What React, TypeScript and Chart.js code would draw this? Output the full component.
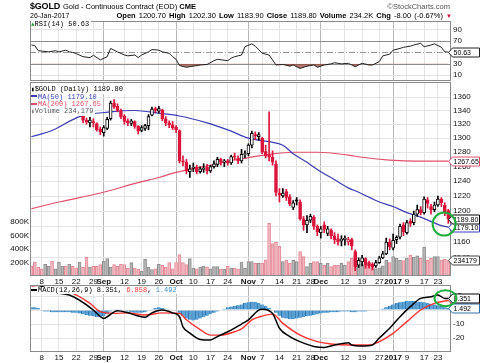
import { useEffect, useRef } from 'react';
import { Chart, registerables } from 'chart.js';

Chart.register(...registerables);

const FONT = '"Liberation Sans", Arial, Helvetica, sans-serif';
const MONO = '"Liberation Mono", "DejaVu Sans Mono", monospace';

// ---------------- DATA ----------------
const dates = [
  '08-03','08-04','08-05','08-08','08-09','08-10','08-11','08-12','08-15','08-16','08-17','08-18','08-19','08-22','08-23','08-24','08-25','08-26','08-29','08-30','08-31',
  '09-01','09-02','09-06','09-07','09-08','09-09','09-12','09-13','09-14','09-15','09-16','09-19','09-20','09-21','09-22','09-23','09-26','09-27','09-28','09-29','09-30',
  '10-03','10-04','10-05','10-06','10-07','10-10','10-11','10-12','10-13','10-14','10-17','10-18','10-19','10-20','10-21','10-24','10-25','10-26','10-27','10-28','10-31',
  '11-01','11-02','11-03','11-04','11-07','11-08','11-09','11-10','11-11','11-14','11-15','11-16','11-17','11-18','11-21','11-22','11-23','11-25','11-28','11-29','11-30',
  '12-01','12-02','12-05','12-06','12-07','12-08','12-09','12-12','12-13','12-14','12-15','12-16','12-19','12-20','12-21','12-22','12-23','12-27','12-28','12-29','12-30',
  '01-03','01-04','01-05','01-06','01-09','01-10','01-11','01-12','01-13','01-17','01-18','01-19','01-20','01-23','01-24','01-25','01-26',
];

const opens = [
  1370,1366,1364,1344,1340,1346,1350,1343,1344,1348,1356,1350,1357,1345,1340,1340,1326,1322,1324,1321,1313,
  1308,1314,1328,1351,1346,1340,1332,1325,1321,1324,1317,1311,1314,1318,1333,1343,1339,1341,1328,1322,1319,
  1316,1311,1268,1266,1253,1258,1259,1253,1256,1259,1254,1260,1263,1270,1266,1268,1265,1275,1272,1268,1277,
  1278,1290,1305,1302,1300,1281,1276,1273,1263,1224,1220,1226,1219,1205,1215,1212,1190,1182,1188,1192,1180,
  1172,1182,1171,1175,1168,1164,1161,1163,1160,1163,1148,1131,1135,1139,1134,1132,1130,1134,1140,1145,1160,
  1152,1163,1166,1182,1172,1187,1185,1196,1202,1198,1215,1206,1202,1208,1216,1208,1200.7,
];
const highs = [
  1372,1368,1367,1345,1350,1353,1352,1347,1352,1360,1358,1360,1358,1347,1348,1342,1329,1330,1328,1322,1316,
  1318,1330,1354,1356,1350,1342,1334,1328,1327,1325,1318,1318,1320,1334,1345,1345,1346,1342,1331,1325,1324,
  1318,1312,1275,1270,1262,1265,1262,1260,1264,1263,1262,1268,1273,1272,1270,1270,1276,1279,1275,1284,1282,
  1292,1310,1309,1308,1301,1290,1338,1282,1268,1230,1230,1229,1222,1214,1218,1215,1193,1194,1196,1194,1182,
  1180,1186,1180,1177,1172,1170,1168,1168,1166,1165,1150,1140,1143,1140,1136,1134,1137,1142,1148,1165,1164,
  1170,1168,1183,1185,1188,1190,1200,1208,1206,1219,1218,1209,1212,1220,1218,1211,1202.3,
];
const lows = [
  1360,1358,1335,1333,1338,1342,1338,1335,1340,1346,1344,1348,1340,1335,1337,1322,1320,1316,1316,1310,1305,
  1303,1312,1326,1343,1338,1328,1320,1318,1318,1314,1306,1309,1311,1312,1332,1337,1336,1325,1318,1315,1312,
  1308,1265,1261,1250,1245,1253,1250,1251,1252,1250,1252,1258,1260,1262,1260,1262,1263,1270,1264,1265,1272,
  1275,1286,1298,1297,1278,1272,1268,1262,1220,1212,1218,1214,1207,1202,1208,1188,1175,1172,1185,1176,1168,
  1165,1172,1168,1164,1158,1156,1155,1156,1156,1150,1124,1128,1130,1127,1127,1125,1128,1133,1139,1144,1150,
  1150,1158,1164,1168,1170,1180,1182,1193,1195,1196,1204,1196,1199,1206,1206,1194,1183.9,
];
const closes = [
  1366,1363,1344,1340,1346,1350,1343,1344,1348,1356,1350,1357,1345,1340,1341,1326,1323,1326,1322,1312,1309,
  1315,1327,1351,1345,1340,1331,1324,1322,1325,1317,1310,1315,1318,1331,1342,1340,1343,1328,1322,1319,1315,
  1312,1268,1266,1254,1257,1259,1253,1257,1258,1254,1260,1264,1270,1266,1268,1265,1274,1273,1268,1277,1278,
  1290,1307,1303,1305,1280,1275,1273,1266,1225,1221,1224,1218,1209,1211,1213,1190,1182,1188,1193,1180,1173,
  1177,1176,1177,1168,1163,1160,1164,1165,1163,1155,1129,1137,1140,1131,1130,1129,1134,1140,1145,1160,1154,
  1162,1166,1180,1173,1185,1184,1196,1202,1198,1216,1210,1202,1208,1216,1211,1197.8,1189.8,
];
// volume in thousands
const volumes = [
  148,207,133,108,173,143,222,107,207,148,148,173,143,118,207,
  133,281,133,143,148,168,217,257,133,168,148,173,168,118,197,
  118,99,74,247,133,94,108,173,158,133,197,108,197,316,197,
  168,257,118,108,133,148,133,108,140,140,104,100,143,118,118,104,207,118,
  212,212,188,188,188,240,780,480,500,440,212,237,188,237,212,360,286,140,188,212,212,188,163,188,140,163,163,188,163,212,
  260,300,200,170,160,150,130,110,120,150,237,200,286,260,237,230,260,311,280,300,260,430,237,260,286,286,237,250,234.179,
];

const ma50Idx = [0, 6, 14, 23, 30, 37, 43, 51, 58, 63, 69, 73, 76, 80, 83, 88, 92, 95, 101, 105, 109, 113, 119, 121];
const ma50Val = [1302, 1311, 1331, 1338, 1340, 1336, 1332, 1322, 1310, 1300, 1295, 1290, 1278, 1266, 1256, 1242, 1231, 1225, 1212, 1206, 1198, 1192, 1181, 1179.1];

const ma200Idx = [0, 8, 20, 31, 37, 42, 50, 60, 69, 76, 83, 92, 96, 104, 112, 121];
const ma200Val = [1203, 1212, 1224, 1238, 1245, 1252, 1260, 1270, 1277, 1280, 1280, 1276, 1273, 1269, 1267.5, 1267.65];

const rsiIdx = [0,1,2,5,7,8,10,11,12,13,15,17,18,20,22,23,25,27,28,30,31,32,34,35,37,38,40,41,42,43,45,47,49,51,53,54,57,58,59,61,62,64,65,67,69,70,71,73,75,76,78,80,82,83,85,87,88,90,92,93,94,96,98,99,101,102,104,105,107,108,110,111,113,114,116,117,119,120,121];
const rsiVal = [63,62,53,51,53,51,54,51,50,48,42.5,41,45,37,42.5,57,51,45.5,44,45.5,41,45.5,51,55,54,51,48.5,42.5,38,27,24,26,28,29,35.5,38,35.5,40,42.5,45.5,60,65,61,48.5,45.5,37,28,29,26,28,22,26,28,24,28,30,32,30,31,28,25,31,28,28,34,44,47,54,57,59,61,63,66,60,63,65,59,51,50.63];

const macdIdx = [0,3,6,11,14,18,21,22,25,28,31,33,35,38,41,43,44,46,49,52,54,57,61,63,66,67,70,72,75,78,82,85,88,92,93,96,99,101,104,107,110,113,116,118,120,121];
const macdVal = [18.5,17,13,10.7,7,0,-6,-4.8,-0.5,-2,-4.3,-5.2,-2,0,-2,-4.8,-12,-16.5,-21,-21.4,-19,-15.5,-10,-7,0,0.5,-2.4,-13,-19,-22.6,-26,-26.7,-25,-23.3,-25,-25.7,-25,-20,-13,-4.8,2.4,8.3,9.5,10.7,8.3,8.351];

const signalIdx = [0,11,17,20,24,28,33,38,43,45,49,52,55,59,61,64,67,70,73,78,83,87,93,98,101,105,109,113,117,121];
const signalVal = [16.5,13,4.8,-1.2,-2.4,-2,-3.6,-2,-2.4,-7,-14,-17.9,-17.9,-15.5,-13.5,-7,-4.3,-2.9,-9.5,-17.9,-22.6,-24.3,-25,-25,-22.6,-16.7,-8.3,0,4.8,6.858];

const histVal = [
  2,2,1.5,
  -0.5,-1,-1,-1.5,-1.5,-1.5,-1.5,-1.5,-1.5,-2,-2,-2.5,
  -3,-3.5,-4,-4.5,-5,-5,-4.5,
  -3,-1,0.5,0.5,0.5,
  -0.5,-1,-1.5,-2,-2,-2,-1.5,
  -0.5,0.5,1.5,2,1.5,1,0.5,
  0,-0.5,-2,
  -4,-6,-7,-7.5,-7,-6,-5,-4,
  -3,-2,-1,0,1,2,
  2.5,3,3.5,4,5,5.5,6,6,5,
  4,3,1.5,0,
  -2,-4,-5.5,-6,-6.5,-6.5,-6,-5.5,-5,-4.5,
  -4,-3.5,-3,-2.5,-2,-2,-1.5,-1.5,-1.5,-1,
  -1,-1,-1.5,-1.5,-1,-1,-1,-0.5,-0.5,0,
  0.5,1,2,3,4,5,5.5,6,6.5,6.5,
  6.5,6,6,5.5,5,4.5,4,3.5,3,2,1.492,
];

const tickDates = ['08-08','08-15','08-22','08-29','09-01','09-12','09-19','09-26','10-03','10-10','10-17','10-24','11-01','11-07','11-14','11-21','11-28','12-01','12-12','12-19','12-27','01-03','01-09','01-17','01-23'];
const tickLabels = ['8','15','22','29','Sep','12','19','26','Oct','10','17','24','Nov','7','14','21','28','Dec','12','19','27','2017','9','17','23'];
const monthLabels = ['Sep', 'Oct', 'Nov', 'Dec', '2017'];

const priceTicks = [1140, 1160, 1180, 1200, 1220, 1240, 1260, 1280, 1300, 1320, 1340, 1360];
const volumeTicks = [200, 400, 600, 800];
const rsiTicks = [10, 30, 50, 70, 90];
const macdTicks = [-20, -10, 0, 10];

const lastClose = 1189.8;
const lastMa50 = 1179.1;
const lastMa200 = 1267.65;
const lastVolume = 234.179;
const lastRsi = 50.63;
const lastMacd = 8.351;
const lastSignal = 6.858;
const lastHist = 1.492;

// ---------------- STYLE ----------------
const RED = '#dc143c';
const BLACK = '#000000';
const GRID = '#e4e4e4';
const GRID_MONTH = '#b8b8b8';
const FRAME = '#8a8a8a';
const X_MIN = -0.4;
const X_MAX = 121.8;

const tickIdx = tickDates.map((d) => dates.indexOf(d));
const monthIdx = tickIdx.filter((_, k) => monthLabels.includes(tickLabels[k]));

function xScale(showLabels: boolean, height: number) {
  return {
    type: 'linear',
    min: X_MIN,
    max: X_MAX,
    offset: false,
    afterBuildTicks: (s: any) => {
      s.ticks = tickIdx.map((v) => ({ value: v }));
    },
    afterFit: (s: any) => {
      s.height = height;
    },
    grid: {
      offset: false,
      drawTicks: false,
      lineWidth: 1,
      color: (c: any) => (c.tick && monthIdx.includes(c.tick.value) ? GRID_MONTH : GRID),
    },
    border: { display: false },
    ticks: {
      display: showLabels,
      autoSkip: false,
      maxRotation: 0,
      minRotation: 0,
      padding: 1,
      color: '#111',
      font: (c: any) => ({
        family: FONT,
        size: 8,
        weight: c.tick && monthIdx.includes(c.tick.value) ? 'bold' : 'normal',
      }),
      callback: (v: any) => {
        const k = tickIdx.indexOf(v);
        return k >= 0 ? tickLabels[k] : '';
      },
    },
  };
}

function yRight(min: number, max: number, ticks: number[], type = 'linear', gridColor: any = GRID) {
  return {
    type,
    position: 'right',
    min,
    max,
    afterBuildTicks: (s: any) => {
      s.ticks = ticks.map((v) => ({ value: v }));
    },
    afterFit: (s: any) => {
      s.width = 29;
    },
    grid: { drawTicks: false, color: gridColor },
    border: { display: false },
    ticks: {
      autoSkip: false,
      padding: 2,
      color: '#111',
      font: { family: FONT, size: 8 },
      callback: (v: any) => String(v),
    },
  };
}

function drawFrame(chart: any) {
  const { ctx, chartArea: a } = chart;
  ctx.save();
  ctx.strokeStyle = FRAME;
  ctx.lineWidth = 1;
  ctx.strokeRect(Math.round(a.left) + 0.5, Math.round(a.top) + 0.5, Math.round(a.right - a.left) - 1, Math.round(a.bottom - a.top) - 1);
  ctx.restore();
}

function drawTag(ctx: any, yPix: number, text: string, stroke: string) {
  const y = Math.round(yPix) + 0.5;
  const x0 = 448.5, x1 = 452.5, x2 = 479.5, h = 4.5;
  ctx.save();
  ctx.beginPath();
  ctx.moveTo(x0, y);
  ctx.lineTo(x1, y - h);
  ctx.lineTo(x2, y - h);
  ctx.lineTo(x2, y + h);
  ctx.lineTo(x1, y + h);
  ctx.closePath();
  ctx.fillStyle = '#ffffff';
  ctx.fill();
  ctx.strokeStyle = stroke;
  ctx.lineWidth = 1;
  ctx.stroke();
  ctx.fillStyle = '#000';
  ctx.font = `7px ${FONT}`;
  ctx.textBaseline = 'middle';
  ctx.textAlign = 'left';
  ctx.fillText(text, 453.5, y + 0.5);
  ctx.restore();
}

function drawRing(ctx: any, cx: number, cy: number, rx: number, ry: number) {
  ctx.save();
  ctx.strokeStyle = '#1fae3c';
  ctx.lineWidth = 2;
  ctx.beginPath();
  ctx.ellipse(cx, cy, rx, ry, 0, 0, Math.PI * 2);
  ctx.stroke();
  ctx.restore();
}

const baseOptions = {
  responsive: false,
  animation: false,
  events: [],
  plugins: { legend: { display: false }, tooltip: { enabled: false } },
};

export default function App() {
  const rsiRef = useRef<HTMLCanvasElement>(null);
  const mainRef = useRef<HTMLCanvasElement>(null);
  const macdRef = useRef<HTMLCanvasElement>(null);

  useEffect(() => {
    const xs = dates.map((_, i) => i);
    const prev = (i: number) => (i > 0 ? closes[i - 1] : opens[0]);
    const candleColor = xs.map((i) => (closes[i] < prev(i) ? RED : BLACK));
    const bodyFill = xs.map((i) => (closes[i] >= opens[i] ? '#ffffff' : candleColor[i]));
    const volFill = xs.map((i) => (closes[i] < prev(i) ? '#f3b7c0' : '#b6b6b6'));
    const volBorder = xs.map((i) => (closes[i] < prev(i) ? '#e48a99' : '#8e8e8e'));

    // RSI panel
    const rsiChart = new Chart(rsiRef.current as any, {
      type: 'line',
      data: {
        datasets: [
          {
            data: rsiIdx.map((d, k) => ({ x: d, y: rsiVal[k] })),
            borderColor: '#222',
            borderWidth: 1,
            pointRadius: 0,
            tension: 0,
            fill: { target: { value: 30 }, above: 'rgba(0,0,0,0)', below: 'rgba(150,72,62,0.75)' },
          },
        ],
      },
      options: {
        ...baseOptions,
        layout: { padding: { left: 30, right: 0, top: 21, bottom: 282 } },
        scales: {
          x: xScale(false, 0),
          y: yRight(0, 105, rsiTicks, 'linear', (c: any) =>
            c.tick && [30, 50, 70].includes(c.tick.value) ? 'rgba(0,0,0,0)' : GRID
          ),
        },
      } as any,
      plugins: [
        {
          id: 'rsiRefs',
          beforeDatasetsDraw(chart: any) {
            const { ctx, chartArea: a, scales } = chart;
            ctx.save();
            ctx.lineWidth = 1;
            [70, 30].forEach((v) => {
              const y = Math.round(scales.y.getPixelForValue(v)) + 0.5;
              ctx.strokeStyle = '#8c8c8c';
              ctx.beginPath();
              ctx.moveTo(a.left, y);
              ctx.lineTo(a.right, y);
              ctx.stroke();
            });
            const y50 = Math.round(scales.y.getPixelForValue(50)) + 0.5;
            ctx.strokeStyle = '#9a9a9a';
            ctx.setLineDash([6, 2, 1, 2]);
            ctx.beginPath();
            ctx.moveTo(a.left, y50);
            ctx.lineTo(a.right, y50);
            ctx.stroke();
            ctx.restore();
          },
          afterDraw(chart: any) {
            drawFrame(chart);
            drawTag(chart.ctx, chart.scales.y.getPixelForValue(lastRsi), lastRsi.toFixed(2), '#222');
          },
        },
      ],
    } as any);

    // Price panel
    const mainChart = new Chart(mainRef.current as any, {
      type: 'bar',
      data: {
        datasets: [
          {
            type: 'bar',
            data: xs.map((i) => ({ x: i, y: [opens[i], closes[i]] })),
            backgroundColor: bodyFill,
            borderColor: candleColor,
            borderWidth: 1,
            borderSkipped: false,
            barThickness: 3,
            grouped: false,
            yAxisID: 'y',
            order: 0,
          },
          {
            type: 'bar',
            data: xs.map((i) => ({ x: i, y: [lows[i], highs[i]] })),
            backgroundColor: candleColor,
            borderWidth: 0,
            barThickness: 1,
            grouped: false,
            yAxisID: 'y',
            order: 1,
          },
          {
            type: 'line',
            data: ma50Idx.map((d, k) => ({ x: d, y: ma50Val[k] })),
            borderColor: '#3c3cb6',
            borderWidth: 1.2,
            pointRadius: 0,
            cubicInterpolationMode: 'monotone',
            yAxisID: 'y',
            order: 2,
          },
          {
            type: 'line',
            data: ma200Idx.map((d, k) => ({ x: d, y: ma200Val[k] })),
            borderColor: '#e2506e',
            borderWidth: 1.2,
            pointRadius: 0,
            cubicInterpolationMode: 'monotone',
            yAxisID: 'y',
            order: 3,
          },
          {
            type: 'bar',
            data: xs.map((i) => ({ x: i, y: volumes[i] })),
            backgroundColor: volFill,
            borderColor: volBorder,
            borderWidth: 1,
            borderSkipped: 'start',
            barThickness: 3,
            grouped: false,
            yAxisID: 'yv',
            order: 5,
          },
        ],
      },
      options: {
        ...baseOptions,
        layout: { padding: { left: 0, right: 0, top: 82, bottom: 78 } },
        scales: {
          x: xScale(true, 9),
          y: yRight(1117.5, 1382.6, priceTicks, 'logarithmic'),
          yv: {
            type: 'linear',
            position: 'left',
            min: 0,
            max: 2874,
            afterBuildTicks: (s: any) => {
              s.ticks = volumeTicks.map((v) => ({ value: v }));
            },
            afterFit: (s: any) => {
              s.width = 30;
            },
            grid: { display: false, drawTicks: false },
            border: { display: false },
            ticks: {
              autoSkip: false,
              padding: 1,
              color: '#111',
              font: { family: FONT, size: 8 },
              callback: (v: any) => v + 'K',
            },
          },
        },
      } as any,
      plugins: [
        {
          id: 'mainOverlay',
          afterDraw(chart: any) {
            const { ctx, scales } = chart;
            drawFrame(chart);
            drawTag(ctx, scales.y.getPixelForValue(lastMa200), lastMa200.toFixed(2), '#e2506e');
            drawTag(ctx, scales.yv.getPixelForValue(lastVolume), '234179', '#444');
            drawTag(ctx, scales.y.getPixelForValue(lastMa50), lastMa50.toFixed(2), '#3c3cb6');
            drawTag(ctx, scales.y.getPixelForValue(lastClose), lastClose.toFixed(2), '#000');
            drawRing(ctx, scales.x.getPixelForValue(119.8), scales.y.getPixelForValue(1183), 11.5, 11.5);
          },
        },
      ],
    } as any);

    // MACD panel
    const macdChart = new Chart(macdRef.current as any, {
      type: 'bar',
      data: {
        datasets: [
          {
            type: 'line',
            data: macdIdx.map((d, k) => ({ x: d, y: macdVal[k] })),
            borderColor: '#000',
            borderWidth: 1.5,
            pointRadius: 0,
            cubicInterpolationMode: 'monotone',
            order: 0,
          },
          {
            type: 'line',
            data: signalIdx.map((d, k) => ({ x: d, y: signalVal[k] })),
            borderColor: '#ff3333',
            borderWidth: 1.4,
            pointRadius: 0,
            cubicInterpolationMode: 'monotone',
            order: 1,
          },
          {
            type: 'bar',
            data: xs.map((i) => ({ x: i, y: histVal[i] })),
            backgroundColor: '#5aa3d6',
            borderColor: '#2c70a8',
            borderWidth: { left: 1, right: 0, top: 0, bottom: 0 },
            borderSkipped: false,
            barThickness: 3.45,
            grouped: false,
            order: 2,
          },
        ],
      },
      options: {
        ...baseOptions,
        layout: { padding: { left: 30, right: 0, top: 285, bottom: 0 } },
        scales: {
          x: xScale(true, 11),
          y: yRight(-30, 17.9, macdTicks),
        },
      } as any,
      plugins: [
        {
          id: 'macdOverlay',
          afterDraw(chart: any) {
            const { ctx, scales } = chart;
            drawFrame(chart);
            drawTag(ctx, scales.y.getPixelForValue(lastSignal), lastSignal.toFixed(3), '#ff3333');
            drawTag(ctx, scales.y.getPixelForValue(lastHist), lastHist.toFixed(3), '#2c70a8');
            drawTag(ctx, scales.y.getPixelForValue(lastMacd), lastMacd.toFixed(3), '#000');
            drawRing(ctx, scales.x.getPixelForValue(120.2), scales.y.getPixelForValue(8.5), 11, 8);
          },
        },
      ],
    } as any);

    return () => {
      rsiChart.destroy();
      mainChart.destroy();
      macdChart.destroy();
    };
  }, []);

  const canvasStyle: any = { position: 'absolute', left: 0, top: 0, width: 480, height: 363 };
  const abs = (left: number, top: number, extra: any = {}) => ({ position: 'absolute', left, top, whiteSpace: 'nowrap', ...extra });
  const legendRow: any = { background: '#fff', height: 7.4, lineHeight: '7.4px', paddingRight: 2, width: 'fit-content' };
  const lineIcon = (color: string) => (
    <span style={{ display: 'inline-block', width: 6, height: 2, background: color, verticalAlign: 'middle', marginRight: 1, marginBottom: 1 }} />
  );

  return (
    <div style={{ position: 'absolute', left: 0, top: 0, width: 480, height: 363, background: '#fff', overflow: 'hidden', fontFamily: FONT, color: '#000' }}>
      <canvas ref={rsiRef} width={480} height={363} style={canvasStyle} />
      <canvas ref={mainRef} width={480} height={363} style={canvasStyle} />
      <canvas ref={macdRef} width={480} height={363} style={canvasStyle} />

      {/* header */}
      <div style={abs(30, 0, { font: `bold 9px ${FONT}`, lineHeight: '12px', letterSpacing: '-0.2px' })}>$GOLD</div>
      <div style={abs(63, 2, { font: `7.5px ${FONT}`, lineHeight: '10px' })}>
        Gold - Continuous Contract (EOD) <span style={{ fontWeight: 'bold' }}>CME</span>
      </div>
      <div style={{ position: 'absolute', right: 30, top: 2, font: `7.5px ${FONT}`, lineHeight: '10px', color: '#555' }}>©StockCharts.com</div>
      <div style={abs(30, 11, { font: `7px ${FONT}`, lineHeight: '9px' })}>26-Jan-2017</div>
      <div style={{ position: 'absolute', right: 28, top: 11, font: `7.5px ${FONT}`, lineHeight: '9px', whiteSpace: 'nowrap', wordSpacing: '1px' }}>
        <b>Open</b> 1200.70 <b>High</b> 1202.30 <b>Low</b> 1183.90 <b>Close</b> 1189.80 <b>Volume</b> 234.2K <b>Chg</b> -8.00 (-0.67%){' '}
        <span style={{ color: '#d0103a', fontSize: 6 }}>▼</span>
      </div>

      {/* RSI legend */}
      <div style={abs(31, 21, { font: `7px ${MONO}` })}>
        <div style={legendRow}>
          <span style={{ color: '#2a9a3a', fontSize: 6 }}>▲</span>RSI(14) 50.63
        </div>
      </div>

      {/* price legend */}
      <div style={abs(31, 86.3, { font: `7px ${MONO}` })}>
        <div style={legendRow}>
          <span style={{ fontSize: 6 }}>▮</span>$GOLD (Daily) 1189.80
        </div>
        <div style={{ ...legendRow, color: '#3c3cb6' }}>{lineIcon('#3c3cb6')}MA(50) 1179.10</div>
        <div style={{ ...legendRow, color: '#e2506e' }}>{lineIcon('#e2506e')}MA(200) 1267.65</div>
        <div style={{ ...legendRow, color: '#555' }}>
          <span style={{ fontSize: 6, color: '#888' }}>▮</span>Volume 234,179
        </div>
      </div>

      {/* MACD legend */}
      <div style={abs(31, 287, { font: `7px ${MONO}` })}>
        <div style={legendRow}>
          {lineIcon('#000')}MACD(12,26,9) 8.351, <span style={{ color: '#ff3333' }}>6.858</span>,{' '}
          <span style={{ color: '#3a8dc4' }}>1.492</span>
        </div>
      </div>
    </div>
  );
}
